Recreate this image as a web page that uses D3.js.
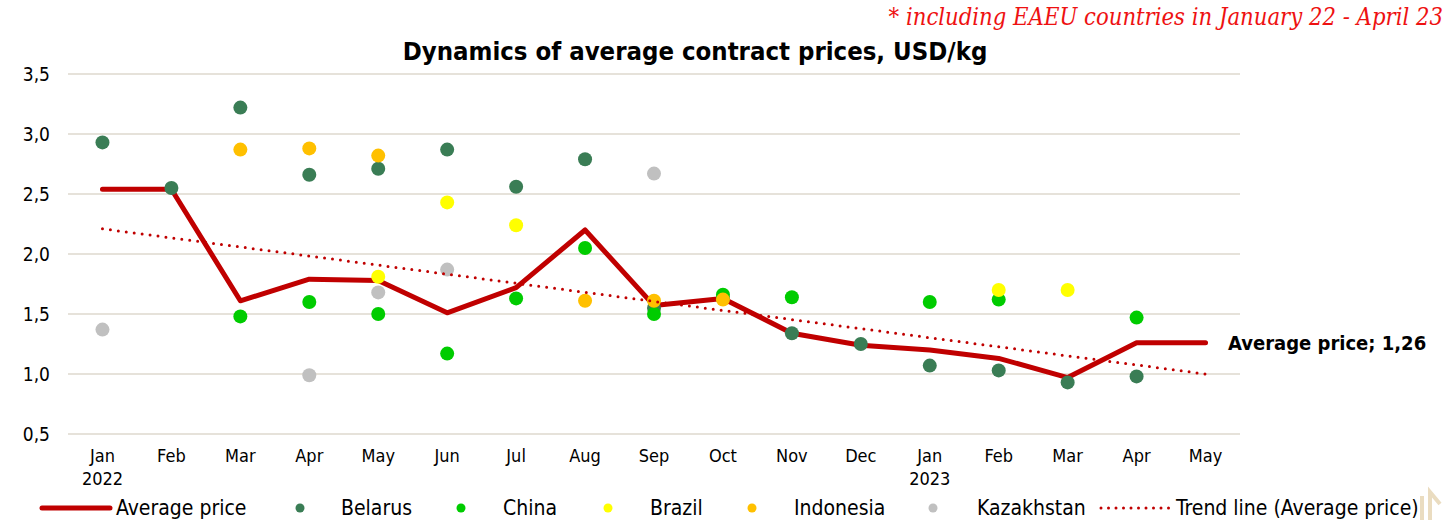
<!DOCTYPE html>
<html>
<head>
<meta charset="utf-8">
<script src="https://cdn.jsdelivr.net/npm/d3@7"></script>
<style>
  body { margin: 0; background: #fff; }
  svg text { font-family: "DejaVu Sans Condensed", "DejaVu Sans", sans-serif; font-stretch: condensed; }
</style>
</head>
<body>
<div id="chart"></div>
<script>
// months on the axis, year under Jan
var months = ["Jan","Feb","Mar","Apr","May","Jun","Jul","Aug","Sep","Oct","Nov","Dec","Jan","Feb","Mar","Apr","May"];
var years  = ["2022","","","","","","","","","","","","2023","","","",""];

var average    = [2.54, 2.54, 1.61, 1.79, 1.78, 1.51, 1.72, 2.20, 1.57, 1.63, 1.34, 1.24, 1.20, 1.13, 0.97, 1.26, 1.26];
var belarus    = [2.93, 2.55, 3.22, 2.66, 2.71, 2.87, 2.56, 2.79, 1.55, 1.63, 1.34, 1.25, 1.07, 1.03, 0.93, 0.98, null];
var china      = [null, null, 1.48, 1.60, 1.50, 1.17, 1.63, 2.05, 1.50, 1.66, 1.64, null, 1.60, 1.62, null, 1.47, null];
var brazil     = [null, null, null, null, 1.81, 2.43, 2.24, null, null, null, null, null, null, 1.70, 1.70, null, null];
var indonesia  = [null, null, 2.87, 2.88, 2.82, null, null, 1.61, 1.61, 1.62, null, null, null, null, null, null, null];
var kazakhstan = [1.37, null, null, 0.99, 1.68, 1.87, null, null, 2.67, null, null, null, null, null, null, null, null];
var trendEnds  = [2.21, 1.00];   // trend line value at first and last month
var yTicks     = [0.5, 1.0, 1.5, 2.0, 2.5, 3.0, 3.5];

var dotSeries = [
  {name: "Belarus",    values: belarus,    color: "#3a7d55"},
  {name: "China",      values: china,      color: "#00cc00"},
  {name: "Brazil",     values: brazil,     color: "#ffff00"},
  {name: "Indonesia",  values: indonesia,  color: "#ffc000"},
  {name: "Kazakhstan", values: kazakhstan, color: "#c0c0c0"}
];

var width = 1450, height = 520;
var red = "#c00000";
var comma = function(v) { return d3.format(".1f")(v).replace(".", ","); };

var svg = d3.select("#chart").append("svg")
  .attr("width", width)
  .attr("height", height);

var x = d3.scaleBand().domain(d3.range(months.length)).range([68, 1240]);
var cx = function(i) { return x(i) + x.bandwidth() / 2; };
var y = d3.scaleLinear().domain([0.5, 3.5]).range([434, 74]);

// gridlines
svg.append("g").selectAll("line")
  .data(yTicks).enter().append("line")
  .attr("x1", 68).attr("x2", 1240)
  .attr("y1", function(d) { return y(d); })
  .attr("y2", function(d) { return y(d); })
  .attr("stroke", "#e6e2da")
  .attr("stroke-width", 2);

// y axis labels
var yAxis = svg.append("g")
  .attr("transform", "translate(58,0)")
  .call(d3.axisLeft(y).tickValues(yTicks).tickFormat(comma).tickSize(0).tickPadding(8));
yAxis.select(".domain").remove();
yAxis.selectAll("text").attr("font-size", 19).attr("fill", "#000").style("font-stretch", "normal");

// x axis labels
var xAxis = svg.append("g")
  .attr("transform", "translate(0,445)")
  .call(d3.axisBottom(x).tickFormat(function(i) { return months[i]; }).tickSize(0).tickPadding(4));
xAxis.select(".domain").remove();
xAxis.selectAll("text")
  .attr("font-size", 18).attr("fill", "#000")
  .each(function(i) {
    if (years[i]) {
      d3.select(this).append("tspan")
        .attr("x", 0).attr("dy", "1.3em")
        .text(years[i]);
    }
  });

// average price line
var line = d3.line()
  .x(function(d, i) { return cx(i); })
  .y(function(d) { return y(d); });

svg.append("path")
  .datum(average)
  .attr("d", line)
  .attr("fill", "none")
  .attr("stroke", red)
  .attr("stroke-width", 5)
  .attr("stroke-linejoin", "round")
  .attr("stroke-linecap", "round");

// country dots
dotSeries.forEach(function(s) {
  svg.append("g").selectAll("circle")
    .data(s.values.map(function(v, i) { return {i: i, v: v}; }).filter(function(d) { return d.v != null; }))
    .enter().append("circle")
    .attr("cx", function(d) { return cx(d.i); })
    .attr("cy", function(d) { return y(d.v); })
    .attr("r", 7)
    .style("fill", s.color);
});

// trend line
svg.append("line")
  .attr("x1", cx(0)).attr("y1", y(trendEnds[0]))
  .attr("x2", cx(months.length - 1)).attr("y2", y(trendEnds[1]))
  .attr("stroke", red)
  .attr("stroke-width", 3)
  .attr("stroke-linecap", "round")
  .attr("stroke-dasharray", "0 8");

// data label
var last = average[average.length - 1];
svg.append("text")
  .attr("x", 1228).attr("y", y(last) + 7)
  .attr("font-size", 20).attr("font-weight", "bold").attr("fill", "#000")
  .text("Average price; " + d3.format(".2f")(last).replace(".", ","));

// title + note
svg.append("text")
  .attr("x", 695).attr("y", 60)
  .attr("text-anchor", "middle")
  .attr("font-size", 25.5).attr("font-weight", "bold").attr("fill", "#000")
  .style("font-stretch", "normal")
  .text("Dynamics of average contract prices, USD/kg");

svg.append("text")
  .attr("x", 1443).attr("y", 25)
  .attr("text-anchor", "end")
  .attr("font-size", 23.6).attr("font-style", "italic").attr("fill", "#ee1111")
  .style("font-family", "'DejaVu Serif', 'Liberation Serif', serif")
  .style("font-stretch", "condensed")
  .text("* including EAEU countries in January 22 - April 23");

// legend
var leg = svg.append("g").attr("font-size", 21).attr("fill", "#000");
var ly = 508;
leg.append("line").attr("x1", 42).attr("x2", 110).attr("y1", ly).attr("y2", ly)
  .attr("stroke", red).attr("stroke-width", 5).attr("stroke-linecap", "round");
leg.append("text").attr("x", 116).attr("y", ly + 7).text("Average price");

var legDots = [300, 461, 608, 752, 933];
var legText = [341, 503, 650, 794, 977];
dotSeries.forEach(function(s, k) {
  leg.append("circle").attr("cx", legDots[k]).attr("cy", ly).attr("r", 4.5).style("fill", s.color);
  leg.append("text").attr("x", legText[k]).attr("y", ly + 7).text(s.name);
});
leg.append("line").attr("x1", 1101).attr("x2", 1170).attr("y1", ly).attr("y2", ly)
  .attr("stroke", red).attr("stroke-width", 3).attr("stroke-linecap", "round")
  .attr("stroke-dasharray", "0 7.5");
leg.append("text").attr("x", 1176).attr("y", ly + 7).text("Trend line (Average price)");

// faint arrow logo in corner
svg.append("path")
  .attr("d", "M1422,520 L1422,496 M1430,520 L1430,492 L1440,504")
  .attr("fill", "none")
  .attr("stroke", "#eadcc0")
  .attr("stroke-width", 4);
</script>
</body>
</html>
